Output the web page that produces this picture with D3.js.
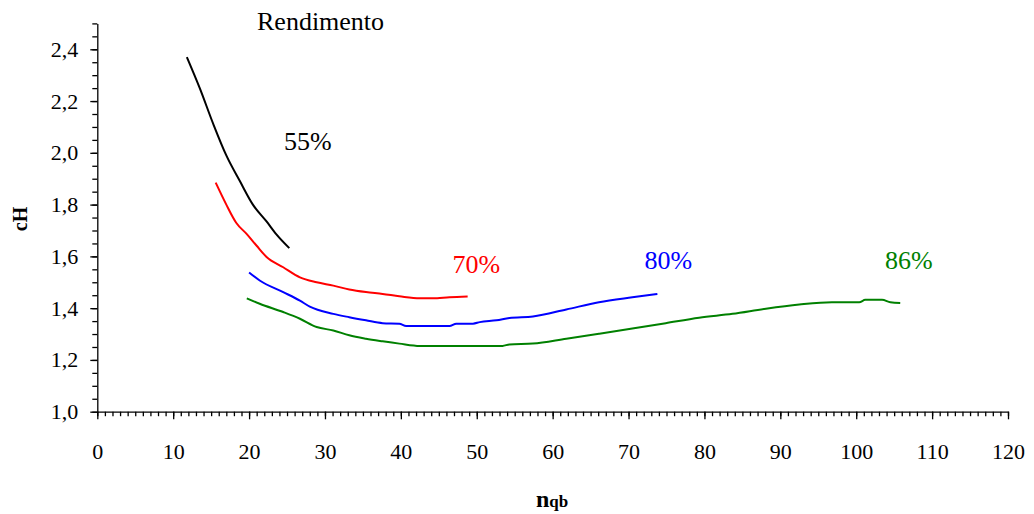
<!DOCTYPE html>
<html>
<head>
<meta charset="utf-8">
<script src="https://cdn.jsdelivr.net/npm/d3@7"></script>
<style>
  body { margin: 0; background: #fff; }
  svg text { font-family: "Liberation Serif", "Times New Roman", serif; }
  .axis path, .axis line { stroke: #000; stroke-width: 1.3; }
  .axis text { font-size: 22px; fill: #000; }
  .curve { fill: none; stroke-width: 2; }
</style>
</head>
<body>
<svg id="chart"></svg>
<script>
// chart size
const dimen = { width: 1034, height: 514 };

// series data (nqb, cH)
const x55 = [11.8, 13.5, 15.3, 17.0, 18.8, 20.5, 22.3, 23.6, 25.3];
const y55 = [2.37, 2.25, 2.11, 1.99, 1.89, 1.80, 1.735, 1.685, 1.632];

const x70 = [15.6, 17.0, 18.3, 19.7, 21.0, 22.3, 24.5, 26.7, 28.9, 31.1, 33.2, 35.4, 37.6, 39.8, 42.5, 44.2, 46.4, 48.8];
const y70 = [1.885, 1.80, 1.73, 1.686, 1.641, 1.598, 1.558, 1.519, 1.50, 1.487, 1.472, 1.462, 1.455, 1.446, 1.438, 1.438, 1.442, 1.445];

const x80 = [20.0, 21.4, 24.5, 26.7, 28.0, 31.1, 33.2, 35.4, 37.6, 39.8, 40.7, 46.4, 47.3, 49.5, 50.4, 52.6, 54.3, 57.4, 61.8, 66.1, 70.5, 73.8];
const y80 = [1.538, 1.507, 1.462, 1.429, 1.406, 1.378, 1.365, 1.353, 1.342, 1.34, 1.331, 1.331, 1.34, 1.34, 1.346, 1.353, 1.362, 1.368, 1.395, 1.423, 1.442, 1.455];

const x86 = [19.7, 21.4, 24.5, 26.7, 28.9, 31.1, 33.2, 35.4, 37.6, 39.8, 42.5, 53.4, 54.3, 57.4, 61.8, 66.1, 70.5, 74.9, 79.3, 83.7, 88.1, 92.5, 96.8, 100.4, 101.2, 103.4, 104.5, 105.8];
const y86 = [1.438, 1.417, 1.385, 1.359, 1.327, 1.314, 1.295, 1.282, 1.272, 1.263, 1.254, 1.254, 1.26, 1.263, 1.282, 1.301, 1.321, 1.342, 1.363, 1.378, 1.398, 1.414, 1.423, 1.423, 1.432, 1.432, 1.423, 1.42];

const seriesNames = ["55%", "70%", "80%", "86%"];
const seriesColors = ["#000000", "#ff0000", "#0000ff", "#008000"];
// label anchor in data units (left edge, baseline)
const labelX = [24.6, 46.8, 72.1, 103.8];
const labelY = [2.01, 1.535, 1.55, 1.55];

const xTicks = [0, 10, 20, 30, 40, 50, 60, 70, 80, 90, 100, 110, 120];
const yTicks = [1.0, 1.2, 1.4, 1.6, 1.8, 2.0, 2.2, 2.4];

const series = [
  { xs: x55, ys: y55 },
  { xs: x70, ys: y70 },
  { xs: x80, ys: y80 },
  { xs: x86, ys: y86 }
];

const svg = d3.select("#chart")
  .attr("width", dimen.width)
  .attr("height", dimen.height);

const x = d3.scaleLinear().domain([0, 120]).range([97.3, 1008]);
const y = d3.scaleLinear().domain([1.0, 2.5]).range([411.7, 23.4]);

const loc = d3.formatLocale({ decimal: ",", thousands: ".", grouping: [3], currency: ["", ""] });
const fmt = loc.format(".1f");

// minor ticks first, then the major axes on top
svg.append("g")
  .attr("class", "axis")
  .attr("transform", `translate(0,${y(1.0)})`)
  .call(d3.axisBottom(x).tickValues(d3.range(0, 121, 1)).tickSize(4.5).tickFormat(""))
  .call(g => g.select(".domain").remove());

svg.append("g")
  .attr("class", "axis")
  .attr("transform", `translate(${x(0)},0)`)
  .call(d3.axisLeft(y).tickValues(d3.range(1.0, 2.501, 0.05)).tickSize(5).tickFormat(""))
  .call(g => g.select(".domain").remove());

svg.append("g")
  .attr("class", "axis")
  .attr("transform", `translate(0,${y(1.0)})`)
  .call(d3.axisBottom(x).tickValues(xTicks).tickSize(7.6).tickSizeOuter(0).tickPadding(24))
  .call(g => g.selectAll("text").attr("dy", "0.71em"));

svg.append("g")
  .attr("class", "axis")
  .attr("transform", `translate(${x(0)},0)`)
  .call(d3.axisLeft(y).tickValues(yTicks).tickSize(7).tickSizeOuter(0).tickPadding(12).tickFormat(fmt));

// curves
const line = d3.line()
  .curve(d3.curveMonotoneX)
  .x(d => x(d[0]))
  .y(d => y(d[1]));

svg.append("g")
  .selectAll("path")
  .data(series)
  .enter().append("path")
    .attr("class", "curve")
    .attr("stroke", (d, i) => seriesColors[i])
    .attr("d", d => line(d.xs.map((v, i) => [v, d.ys[i]])));

// percentage labels
svg.append("g")
  .selectAll("text")
  .data(seriesNames)
  .enter().append("text")
    .attr("x", (d, i) => x(labelX[i]))
    .attr("y", (d, i) => y(labelY[i]))
    .attr("fill", (d, i) => seriesColors[i])
    .style("font-size", "26px")
    .text(d => d);

svg.append("text")
  .attr("x", 257)
  .attr("y", 30)
  .style("font-size", "26px")
  .text("Rendimento");

// axis titles
const xt = svg.append("text")
  .attr("x", 536)
  .attr("y", 507)
  .style("font-weight", "bold")
  .style("font-size", "24px");
xt.append("tspan").text("n");
xt.append("tspan").style("font-size", "17px").text("qb");

svg.append("text")
  .attr("transform", "translate(27,219) rotate(-90)")
  .attr("text-anchor", "middle")
  .style("font-weight", "bold")
  .style("font-size", "20px")
  .text("cH");
</script>
</body>
</html>
